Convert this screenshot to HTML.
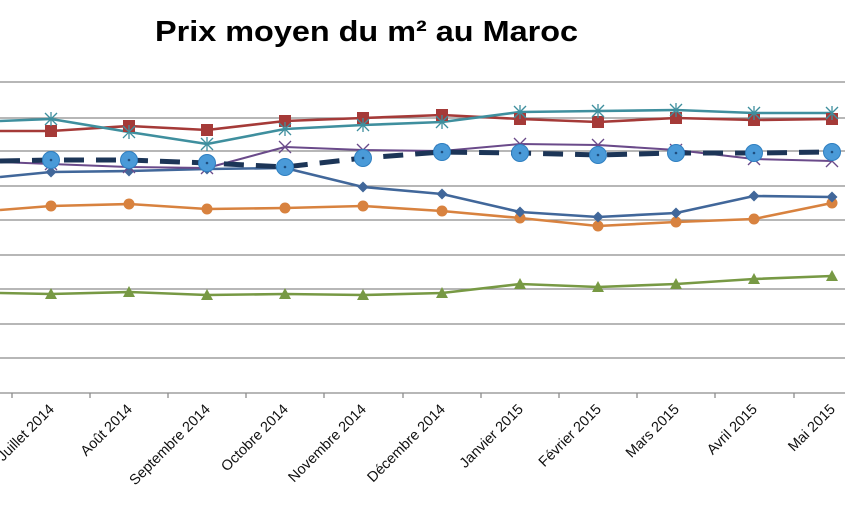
<!DOCTYPE html>
<html><head><meta charset="utf-8"><style>
html,body{margin:0;padding:0;background:#fff;width:845px;height:526px;overflow:hidden}
</style></head><body>
<svg width="845" height="526" viewBox="0 0 845 526" xmlns="http://www.w3.org/2000/svg">
<defs>
<rect id="sq" x="-6" y="-6" width="12" height="12" fill="#a53a38"/>
<g id="ast" stroke="#3f8f9e" stroke-width="1.3"><line x1="-6" y1="-6" x2="6" y2="6"/><line x1="-6" y1="6" x2="6" y2="-6"/><line x1="0" y1="-7" x2="0" y2="7"/></g>
<g id="xx" stroke="#6a4a8a" stroke-width="1.3"><line x1="-6" y1="-6" x2="6" y2="6"/><line x1="-6" y1="6" x2="6" y2="-6"/></g>
<g id="bc"><circle r="8.5" fill="#4a9ad8" stroke="#2f7fc0" stroke-width="1"/><circle r="1.3" fill="#1f4f80"/></g>
<path id="dm" d="M0,-5.5L5.5,0L0,5.5L-5.5,0Z" fill="#41679a"/>
<circle id="oc" r="5.5" fill="#d8823f"/>
<path id="tr" d="M0,-6L6,5L-6,5Z" fill="#779944"/>
</defs>
<text x="155" y="41" font-family="Liberation Sans, sans-serif" font-weight="bold" font-size="29" textLength="423" lengthAdjust="spacingAndGlyphs" fill="#000">Prix moyen du m² au Maroc</text>
<g stroke="#8c8c8c" stroke-width="1.3">
<line x1="0" y1="82" x2="845" y2="82"/><line x1="0" y1="118" x2="845" y2="118"/><line x1="0" y1="151" x2="845" y2="151"/><line x1="0" y1="186" x2="845" y2="186"/><line x1="0" y1="220" x2="845" y2="220"/><line x1="0" y1="255" x2="845" y2="255"/><line x1="0" y1="289" x2="845" y2="289"/><line x1="0" y1="324" x2="845" y2="324"/><line x1="0" y1="358" x2="845" y2="358"/><line x1="0" y1="393" x2="845" y2="393"/>
<line x1="12" y1="393" x2="12" y2="398"/><line x1="90" y1="393" x2="90" y2="398"/><line x1="168" y1="393" x2="168" y2="398"/><line x1="246" y1="393" x2="246" y2="398"/><line x1="324" y1="393" x2="324" y2="398"/><line x1="403" y1="393" x2="403" y2="398"/><line x1="481" y1="393" x2="481" y2="398"/><line x1="559" y1="393" x2="559" y2="398"/><line x1="637" y1="393" x2="637" y2="398"/><line x1="715" y1="393" x2="715" y2="398"/><line x1="794" y1="393" x2="794" y2="398"/>
</g>
<g fill="none" stroke-width="2.6" stroke-linejoin="round">
<polyline stroke="#779944" points="0,293 51,294 129,292 207,295 285,294 363,295 442,293 520,284 598,287 676,284 754,279 832,276"/>
<polyline stroke="#d8823f" points="0,210 51,206 129,204 207,209 285,208 363,206 442,211 520,218 598,226 676,222 754,219 832,203"/>
<polyline stroke="#41679a" points="0,177 51,172 129,171 207,169 285,168 363,187 442,194 520,212 598,217 676,213 754,196 832,197"/>
<polyline stroke="#6a4a8a" stroke-width="2" points="0,162 51,164 129,167 207,168 285,147 363,150 442,151 520,144 598,145 676,150 754,159 832,161"/>
<polyline stroke="#a53a38" points="0,131 51,131 129,126 207,130 285,121 363,118 442,115 520,119 598,122 676,118 754,120 832,119"/>
<polyline stroke="#3f8f9e" points="0,121 51,119 129,132 207,144 285,129 363,125 442,122 520,112 598,111 676,110 754,113 832,113"/>
<polyline stroke="#1c3557" stroke-width="5" stroke-dasharray="20,12" points="0,161 51,160 129,160 207,163 285,167 363,158 442,152 520,153 598,155 676,153 754,153 832,152"/>
</g>
<g>
<use href="#tr" x="51" y="294"/><use href="#tr" x="129" y="292"/><use href="#tr" x="207" y="295"/><use href="#tr" x="285" y="294"/><use href="#tr" x="363" y="295"/><use href="#tr" x="442" y="293"/><use href="#tr" x="520" y="284"/><use href="#tr" x="598" y="287"/><use href="#tr" x="676" y="284"/><use href="#tr" x="754" y="279"/><use href="#tr" x="832" y="276"/>
<use href="#oc" x="51" y="206"/><use href="#oc" x="129" y="204"/><use href="#oc" x="207" y="209"/><use href="#oc" x="285" y="208"/><use href="#oc" x="363" y="206"/><use href="#oc" x="442" y="211"/><use href="#oc" x="520" y="218"/><use href="#oc" x="598" y="226"/><use href="#oc" x="676" y="222"/><use href="#oc" x="754" y="219"/><use href="#oc" x="832" y="203"/>
<use href="#dm" x="51" y="172"/><use href="#dm" x="129" y="171"/><use href="#dm" x="207" y="169"/><use href="#dm" x="285" y="168"/><use href="#dm" x="363" y="187"/><use href="#dm" x="442" y="194"/><use href="#dm" x="520" y="212"/><use href="#dm" x="598" y="217"/><use href="#dm" x="676" y="213"/><use href="#dm" x="754" y="196"/><use href="#dm" x="832" y="197"/>
<use href="#xx" x="51" y="164"/><use href="#xx" x="129" y="167"/><use href="#xx" x="207" y="168"/><use href="#xx" x="285" y="147"/><use href="#xx" x="363" y="150"/><use href="#xx" x="442" y="151"/><use href="#xx" x="520" y="144"/><use href="#xx" x="598" y="145"/><use href="#xx" x="676" y="150"/><use href="#xx" x="754" y="159"/><use href="#xx" x="832" y="161"/>
<use href="#sq" x="51" y="131"/><use href="#sq" x="129" y="126"/><use href="#sq" x="207" y="130"/><use href="#sq" x="285" y="121"/><use href="#sq" x="363" y="118"/><use href="#sq" x="442" y="115"/><use href="#sq" x="520" y="119"/><use href="#sq" x="598" y="122"/><use href="#sq" x="676" y="118"/><use href="#sq" x="754" y="120"/><use href="#sq" x="832" y="119"/>
<use href="#ast" x="51" y="119"/><use href="#ast" x="129" y="132"/><use href="#ast" x="207" y="144"/><use href="#ast" x="285" y="129"/><use href="#ast" x="363" y="125"/><use href="#ast" x="442" y="122"/><use href="#ast" x="520" y="112"/><use href="#ast" x="598" y="111"/><use href="#ast" x="676" y="110"/><use href="#ast" x="754" y="113"/><use href="#ast" x="832" y="113"/>
<use href="#bc" x="51" y="160"/><use href="#bc" x="129" y="160"/><use href="#bc" x="207" y="163"/><use href="#bc" x="285" y="167"/><use href="#bc" x="363" y="158"/><use href="#bc" x="442" y="152"/><use href="#bc" x="520" y="153"/><use href="#bc" x="598" y="155"/><use href="#bc" x="676" y="153"/><use href="#bc" x="754" y="153"/><use href="#bc" x="832" y="152"/>
</g>
<g font-family="Liberation Sans, sans-serif" font-size="14.5" fill="#111" text-anchor="end">
<text transform="translate(55,410) rotate(-45)">Juillet 2014</text>
<text transform="translate(133,410) rotate(-45)">Août 2014</text>
<text transform="translate(211,410) rotate(-45)">Septembre 2014</text>
<text transform="translate(289,410) rotate(-45)">Octobre 2014</text>
<text transform="translate(367,410) rotate(-45)">Novembre 2014</text>
<text transform="translate(446,410) rotate(-45)">Décembre 2014</text>
<text transform="translate(524,410) rotate(-45)">Janvier 2015</text>
<text transform="translate(602,410) rotate(-45)">Février 2015</text>
<text transform="translate(680,410) rotate(-45)">Mars 2015</text>
<text transform="translate(758,410) rotate(-45)">Avril 2015</text>
<text transform="translate(836,410) rotate(-45)">Mai 2015</text>
</g>
</svg>
</body></html>
